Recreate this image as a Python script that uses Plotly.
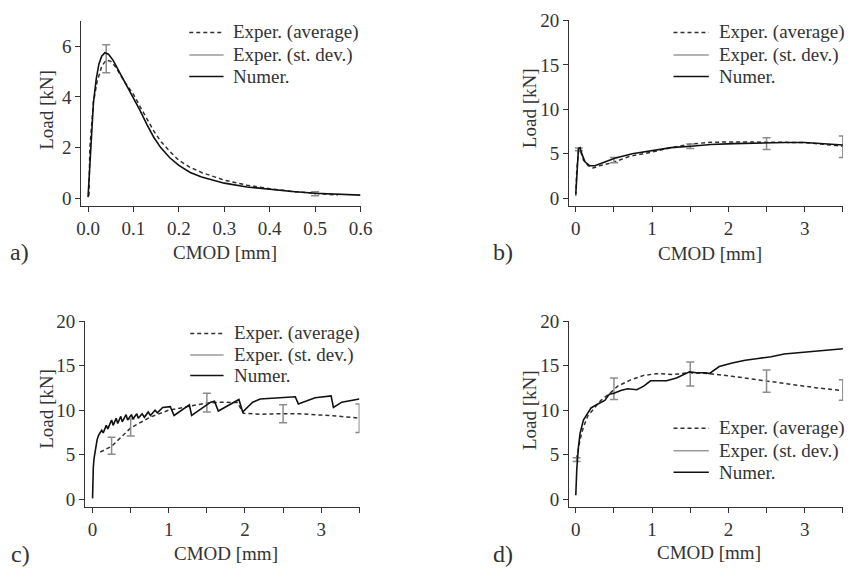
import plotly.graph_objects as go

W, H = 859, 571
FONT = "Liberation Serif"
TXT = "#333333"
AX = "#333333"
ERRC = "#8c8c8c"
AVGC = "#303030"
SDC = "#9a9a9a"
NUMC = "#111111"

# ---------------- data ----------------
# panel a
a_num_x = [0, 0.004, 0.008, 0.012, 0.018, 0.024, 0.03, 0.037, 0.045, 0.055, 0.07, 0.085, 0.1, 0.115, 0.13,
           0.145, 0.16, 0.18, 0.2, 0.225, 0.25, 0.3, 0.35, 0.4, 0.45, 0.5, 0.55, 0.6]
a_num_y = [0.05, 1.5, 2.8, 3.8, 4.7, 5.3, 5.6, 5.74, 5.68, 5.45, 4.95, 4.45, 4.0, 3.45, 2.9,
           2.4, 2.0, 1.6, 1.3, 1.02, 0.84, 0.6, 0.45, 0.35, 0.27, 0.2, 0.16, 0.13]
a_avg_x = [0.002, 0.004, 0.012, 0.02, 0.03, 0.04, 0.05, 0.06, 0.08, 0.1, 0.115, 0.13, 0.145, 0.16, 0.18,
           0.2, 0.225, 0.25, 0.3, 0.35, 0.4, 0.45, 0.5, 0.55]
a_avg_y = [0.1, 2.0, 3.8, 4.6, 5.2, 5.45, 5.4, 5.2, 4.6, 4.1, 3.6, 3.1, 2.65, 2.25, 1.85,
           1.5, 1.22, 1.02, 0.72, 0.52, 0.38, 0.27, 0.19, 0.13]
a_err_x = [0.04, 0.5]
a_err_y = [5.5, 0.18]
a_err_s = [0.55, 0.08]

# panel b
b_num_x = [0, 0.018, 0.035, 0.056, 0.077, 0.12, 0.18, 0.25, 0.36, 0.51, 0.74, 1.0, 1.25, 1.51, 1.77,
           2.07, 2.41, 2.75, 3.0, 3.27, 3.5]
b_num_y = [0.5, 3.6, 5.6, 5.7, 5.05, 4.1, 3.66, 3.66, 4.0, 4.5, 5.0, 5.35, 5.7, 5.86, 6.05,
           6.15, 6.23, 6.27, 6.27, 6.15, 6.0]
b_avg_x = [0, 0.013, 0.035, 0.056, 0.1, 0.163, 0.227, 0.31, 0.48, 0.7, 1.0, 1.25, 1.51, 1.77, 2.07,
           2.41, 2.75, 3.0, 3.27, 3.5]
b_avg_y = [0.3, 3.2, 5.2, 5.5, 4.3, 3.66, 3.4, 3.66, 4.0, 4.7, 5.2, 5.7, 6.1, 6.3, 6.34,
           6.34, 6.3, 6.27, 6.05, 5.86]
b_err_x = [0.04, 0.5, 1.5, 2.5, 3.5]
b_err_y = [5.5, 4.3, 5.85, 6.15, 5.8]
b_err_s = [0.15, 0.3, 0.25, 0.65, 1.2]

# panel c
c_num_x = [0, 0.005, 0.01, 0.02, 0.04, 0.06, 0.08, 0.1, 0.12, 0.14, 0.18, 0.2, 0.25, 0.27, 0.31, 0.33,
           0.37, 0.39, 0.44, 0.46, 0.51, 0.53, 0.58, 0.6, 0.65, 0.68, 0.73, 0.76, 0.82, 0.85, 0.92,
           1.02, 1.07, 1.27, 1.3, 1.55, 1.6, 1.65, 1.92, 1.97, 2.1, 2.2, 2.45, 2.66, 2.7, 2.92, 3.13,
           3.16, 3.27, 3.5]
c_num_y = [0.1, 2.5, 3.6, 4.6, 5.9, 6.7, 7.2, 7.55, 7.75, 7.45, 8.3, 7.9, 8.9, 8.3, 9.1, 8.5,
           9.3, 8.7, 9.5, 8.9, 9.5, 9.0, 9.6, 9.1, 9.6, 9.2, 9.8, 9.4, 10.0, 9.7, 10.3,
           10.4, 9.4, 10.6, 9.4, 10.9, 11.0, 9.9, 11.2, 9.8, 10.9, 11.25, 11.4, 11.5, 10.7, 11.4, 11.6,
           10.3, 10.9, 11.25]
c_avg_x = [0.1, 0.25, 0.5, 0.75, 1.0, 1.25, 1.5, 1.7, 1.9, 1.98, 2.2, 2.5, 2.7, 3.0, 3.2, 3.5]
c_avg_y = [5.3, 5.95, 8.0, 9.2, 10.0, 10.4, 10.8, 10.9, 10.85, 9.65, 9.55, 9.6, 9.6, 9.45, 9.35, 9.1]
c_err_x = [0.25, 0.5, 1.5, 2.5, 3.5]
c_err_y = [6.0, 8.05, 10.85, 9.6, 9.1]
c_err_s = [0.95, 0.95, 1.05, 1.0, 1.6]

# panel d
d_num_x = [0, 0.013, 0.035, 0.056, 0.1, 0.16, 0.2, 0.29, 0.38, 0.44, 0.5, 0.59, 0.68, 0.8, 0.89, 0.98,
           1.19, 1.32, 1.49, 1.58, 1.71, 1.75, 1.88, 2.05, 2.22, 2.39, 2.56, 2.73, 2.99, 3.24, 3.5]
d_num_y = [0.45, 3.4, 5.9, 7.4, 8.9, 9.8, 10.25, 10.7, 11.1, 11.8, 11.9, 12.2, 12.4, 12.3, 12.7, 13.3,
           13.3, 13.6, 14.3, 14.2, 14.2, 14.1, 14.9, 15.3, 15.6, 15.8, 16.0, 16.3, 16.5, 16.7, 16.9]
d_avg_x = [0.01, 0.03, 0.056, 0.1, 0.16, 0.25, 0.33, 0.46, 0.55, 0.72, 0.89, 1.06, 1.28, 1.49, 1.75,
           2.05, 2.3, 2.5, 2.82, 3.16, 3.5]
d_avg_y = [4.5, 5.6, 6.7, 8.1, 9.4, 10.3, 11.1, 12.0, 12.7, 13.4, 13.9, 14.1, 14.0, 14.2, 14.1,
           13.8, 13.5, 13.3, 12.9, 12.5, 12.2]
d_err_x = [0.01, 0.5, 1.5, 2.5, 3.5]
d_err_y = [4.45, 12.4, 14.05, 13.25, 12.25]
d_err_s = [0.2, 1.2, 1.35, 1.25, 1.15]

# ticks / labels
a_xticks = [0.0, 0.1, 0.2, 0.3, 0.4, 0.5, 0.6]
a_yticks = [0, 2, 4, 6]
bcd_xticks = [0, 1, 2, 3]
bcd_yticks = [0, 5, 10, 15, 20]
series_names = ["Exper. (average)", "Exper. (st. dev.)", "Numer."]
panel_labels = ["a)", "b)", "c)", "d)"]
x_title = "CMOD [mm]"
y_title = "Load [kN]"

# ---------------- layout geometry (pixels) ----------------
panels = [
    dict(xd=(78, 362.7), yd=(11, 200.3), xr=[-0.0145, 0.6], yr=[-0.29, 7.0],
         num=(a_num_x, a_num_y), avg=(a_avg_x, a_avg_y), err=(a_err_x, a_err_y, a_err_s),
         xt=a_xticks, yt=a_yticks, fmt="{:.1f}", minor=None,
         leg=(188, 223, 232, [23, 46, 68]), lab=(15, 248), xtit=(224, 248), ytit=(43, 102)),
    dict(xd=(575.7, 855), yd=(10.7, 200.3), xr=[-0.085, 3.503], yr=[-0.84, 20],
         num=(b_num_x, b_num_y), avg=(b_avg_x, b_avg_y), err=(b_err_x, b_err_y, b_err_s),
         xt=bcd_xticks, yt=bcd_yticks, fmt="{:d}", minor=0.5,
         leg=(682, 718, 727, [23, 46, 68]), lab=(508, 248), xtit=(719, 249), ytit=(535, 100)),
    dict(xd=(81.7, 361.7), yd=(318.3, 508.3), xr=[-0.098, 3.503], yr=[-0.835, 20],
         num=(c_num_x, c_num_y), avg=(c_avg_x, c_avg_y), err=(c_err_x, c_err_y, c_err_s),
         xt=bcd_xticks, yt=bcd_yticks, fmt="{:d}", minor=0.5,
         leg=(189, 223, 233, [331, 353, 374]), lab=(16, 557), xtit=(225, 556), ytit=(43, 408)),
    dict(xd=(575.7, 855), yd=(318.3, 508.3), xr=[-0.085, 3.503], yr=[-0.835, 20],
         num=(d_num_x, d_num_y), avg=(d_avg_x, d_avg_y), err=(d_err_x, d_err_y, d_err_s),
         xt=bcd_xticks, yt=bcd_yticks, fmt="{:d}", minor=0.5,
         leg=(682, 718, 727, [428, 451, 473]), lab=(508, 557), xtit=(718, 555), ytit=(535, 409)),
]

fig = go.Figure()
layout = dict(
    width=W, height=H, margin=dict(l=0, r=0, t=0, b=0),
    paper_bgcolor="white", plot_bgcolor="white",
    font=dict(family=FONT, size=19, color=TXT),
    showlegend=False,
    annotations=[], shapes=[],
)


def px(x):
    return x / W


def py(y):
    return (H - y) / H


def label(text, x, y, size=19, angle=0, xanchor="center"):
    return dict(text=text, x=px(x), y=py(y), xref="paper", yref="paper", showarrow=False,
                xanchor=xanchor, yanchor="middle", textangle=angle, borderpad=0,
                font=dict(family=FONT, size=size, color=TXT))


for i, p in enumerate(panels):
    k = "" if i == 0 else str(i + 1)
    xa, ya = "x" + k, "y" + k
    fig.add_trace(go.Scatter(x=p["avg"][0], y=p["avg"][1], mode="lines", name=series_names[0],
                             line=dict(color=AVGC, width=1.5, dash="4px,3px"),
                             xaxis=xa, yaxis=ya))
    fig.add_trace(go.Scatter(x=p["err"][0], y=p["err"][1], mode="markers", name=series_names[1],
                             marker=dict(size=0.1, color="rgba(0,0,0,0)"),
                             error_y=dict(type="data", array=p["err"][2], visible=True,
                                          color=ERRC, thickness=1.5, width=4),
                             xaxis=xa, yaxis=ya))
    fig.add_trace(go.Scatter(x=p["num"][0], y=p["num"][1], mode="lines", name=series_names[2],
                             line=dict(color=NUMC, width=1.6),
                             xaxis=xa, yaxis=ya))

    xdom = [px(p["xd"][0]), px(p["xd"][1])]
    ydom = [py(p["yd"][1]), py(p["yd"][0])]
    axcommon = dict(showline=True, linecolor=AX, linewidth=1.3, ticks="outside", ticklen=5,
                    tickwidth=1.3, tickcolor=AX, showgrid=False, zeroline=False,
                    tickfont=dict(family=FONT, size=19, color=TXT), fixedrange=True)
    xaxis = dict(axcommon, domain=xdom, range=p["xr"], anchor=ya, tickmode="array",
                 tickvals=p["xt"], ticktext=[p["fmt"].format(v) for v in p["xt"]])
    if p["minor"]:
        xaxis["minor"] = dict(dtick=p["minor"], tick0=0, ticks="outside", ticklen=5,
                              tickwidth=1.3, tickcolor=AX)
    yaxis = dict(axcommon, domain=ydom, range=p["yr"], anchor=xa, tickmode="array",
                 tickvals=p["yt"], ticktext=[str(v) for v in p["yt"]])
    layout["xaxis" + k] = xaxis
    layout["yaxis" + k] = yaxis

    # axis titles
    layout["annotations"].append(label(x_title, *p["xtit"]))
    layout["annotations"].append(label(y_title, *p["ytit"], angle=-90))

    # legend (sample lines + text)
    lx0, lx1, tx, rows = p["leg"]
    styles = [dict(color=AVGC, width=1.5, dash="4px,3px"),
              dict(color=SDC, width=1.5),
              dict(color=NUMC, width=1.6)]
    for yy, st, nm in zip(rows, styles, series_names):
        layout["shapes"].append(dict(type="line", xref="paper", yref="paper",
                                     x0=px(lx0), x1=px(lx1), y0=py(yy), y1=py(yy), line=st))
        layout["annotations"].append(label(nm, tx, yy, xanchor="left"))
    layout["annotations"].append(label(panel_labels[i], *p["lab"], size=24))

fig.update_layout(**layout)
fig.write_html("out.html", config={"displayModeBar": False},
               post_script="document.body.style.margin='0';document.body.style.overflow='hidden';")
